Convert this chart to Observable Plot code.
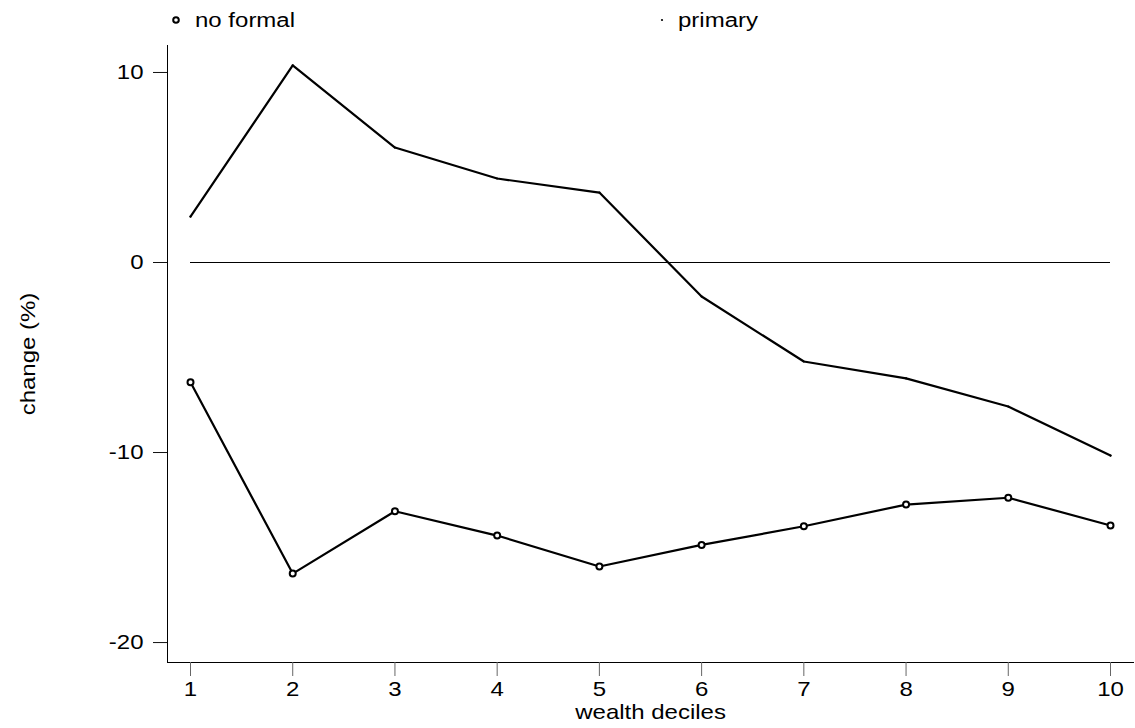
<!DOCTYPE html>
<html>
<head>
<meta charset="utf-8">
<script src="https://cdn.jsdelivr.net/npm/d3@7"></script>
<script src="https://cdn.jsdelivr.net/npm/@observablehq/plot@0.6"></script>
<style>
  body { margin: 0; background: #fff; font-family: "Liberation Sans", Arial, sans-serif; }
  #legend { position: relative; height: 40px; width: 1135px; font-size: 20px; color: #000; }
  .mk { position: absolute; top: 15px; }
  .lt { position: absolute; top: 8px; transform: scaleX(1.2); transform-origin: left center; line-height: 24px; white-space: nowrap; }
</style>
</head>
<body>
<div id="legend">
  <svg class="mk" style="left:171px" width="10" height="10"><circle cx="5" cy="5" r="2.8" fill="none" stroke="#000" stroke-width="2"/></svg>
  <span class="lt" style="left:195px">no formal</span>
  <svg class="mk" style="left:657px" width="10" height="10"><circle cx="5" cy="5" r="1.1" fill="#000"/></svg>
  <span class="lt" style="left:678px">primary</span>
</div>
<div id="chart"></div>
<script>
const deciles = [1, 2, 3, 4, 5, 6, 7, 8, 9, 10];
const noFormal = [-6.3, -16.37, -13.09, -14.37, -16.0, -14.86, -13.88, -12.74, -12.38, -13.84];
const primary = [2.42, 10.37, 6.05, 4.42, 3.68, -1.79, -5.21, -6.1, -7.58, -10.16];
const yTicks = [-20, -10, 0, 10];
const xTicks = deciles;

const rows = [];
deciles.forEach((d, i) => {
  rows.push({decile: d, value: noFormal[i], series: "no formal"});
  rows.push({decile: d, value: primary[i], series: "primary"});
});
const nf = rows.filter(r => r.series === "no formal");
const pr = rows.filter(r => r.series === "primary");

const chart = Plot.plot({
  width: 1135,
  height: 688,
  marginTop: 5,
  marginBottom: 66,
  marginLeft: 167,
  marginRight: 2,
  style: {fontFamily: "Liberation Sans, Arial, sans-serif", fontSize: "20px", color: "#000", background: "#fff"},
  x: {domain: [0.775, 10.225]},
  y: {domain: [-21.05, 11.42]},
  marks: [
    Plot.frame({anchor: "left", stroke: "#000", strokeWidth: 1}),
    Plot.frame({anchor: "bottom", stroke: "#000", strokeWidth: 1}),
    Plot.axisY({ticks: yTicks, tickSize: 14, tickPadding: 10, fontSize: 20, stroke: "#111", strokeOpacity: 1,
      tickFormat: d => String(d),
      label: "change (%)", labelAnchor: "center", labelOffset: 147, labelArrow: "none"}),
    Plot.axisX({ticks: xTicks, tickSize: 14, tickPadding: 5, fontSize: 20, stroke: "#666", strokeOpacity: 1,
      tickFormat: d => String(d), label: "wealth deciles", labelAnchor: "center", labelOffset: 56, labelArrow: "none"}),
    Plot.ruleY([0], {x1: d3.min(deciles), x2: d3.max(deciles), stroke: "#000", strokeWidth: 1}),
    Plot.line(pr, {x: "decile", y: "value", stroke: "#000", strokeWidth: 2.2}),
    Plot.dot(pr, {x: "decile", y: "value", r: 1.1, fill: "#000"}),
    Plot.line(nf, {x: "decile", y: "value", stroke: "#000", strokeWidth: 2.2}),
    Plot.dot(nf, {x: "decile", y: "value", r: 3, stroke: "#000", strokeWidth: 2, fill: "#fff"})
  ]
});
document.getElementById("chart").appendChild(chart);
// widen glyphs horizontally (about their anchor) to match the reference's wide sans face
chart.querySelectorAll("text").forEach(t => {
  const b = t.getBBox();
  const anchor = getComputedStyle(t).textAnchor;
  const ax = anchor === "end" ? b.x + b.width : anchor === "middle" ? b.x + b.width / 2 : b.x;
  const tr = t.getAttribute("transform") || "";
  t.setAttribute("transform", `${tr} translate(${ax},0) scale(1.2,1) translate(${-ax},0)`);
});
</script>
</body>
</html>
